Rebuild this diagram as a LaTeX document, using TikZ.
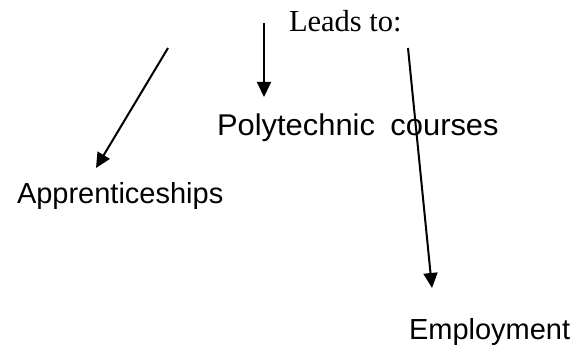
\documentclass[tikz,border=0pt]{standalone}
\usepackage{fontspec}
\setmainfont{Liberation Serif}
\setsansfont{Liberation Sans}
\newfontfamily\widesans[FakeStretch=1.03,WordSpace=1.8]{Liberation Sans}
\usetikzlibrary{arrows.meta}

\begin{document}
\begin{tikzpicture}[
  x=1pt,y=-1pt,
  ->,>={Triangle[length=15pt,width=14pt]}, % defines the style of the arrows
  line width=2pt,
  label node/.style={inner sep=0pt,anchor=base west,font=\fontsize{29}{34}\selectfont\sffamily}, % style of the sans labels
  wide node/.style={label node,font=\fontsize{30}{34}\selectfont\widesans}, % the wider middle label
  title node/.style={inner sep=0pt,anchor=base west,font=\fontsize{30.5}{36}\selectfont\rmfamily} % style of the serif heading
  ]
  \useasboundingbox (0,0) rectangle (574,347);

  \node[title node] (L) at (288,32) {Leads to:};
  \node[wide node] (P) at (216,136) {Polytechnic courses};
  \node[label node] (A) at (16,204) {Apprenticeships};
  \node[label node] (E) at (408,340) {Employment};

  \coordinate (a1) at (168,48);
  \coordinate (a2) at (96,168);
  \coordinate (p1) at (264,23);
  \coordinate (p2) at (264,97);
  \coordinate (e1) at (408,48);
  \coordinate (e2) at (432,288);

  \draw (a1) -- (a2);
  \draw (p1) -- (p2);
  \draw (e1) -- (e2);
\end{tikzpicture}
\end{document}
